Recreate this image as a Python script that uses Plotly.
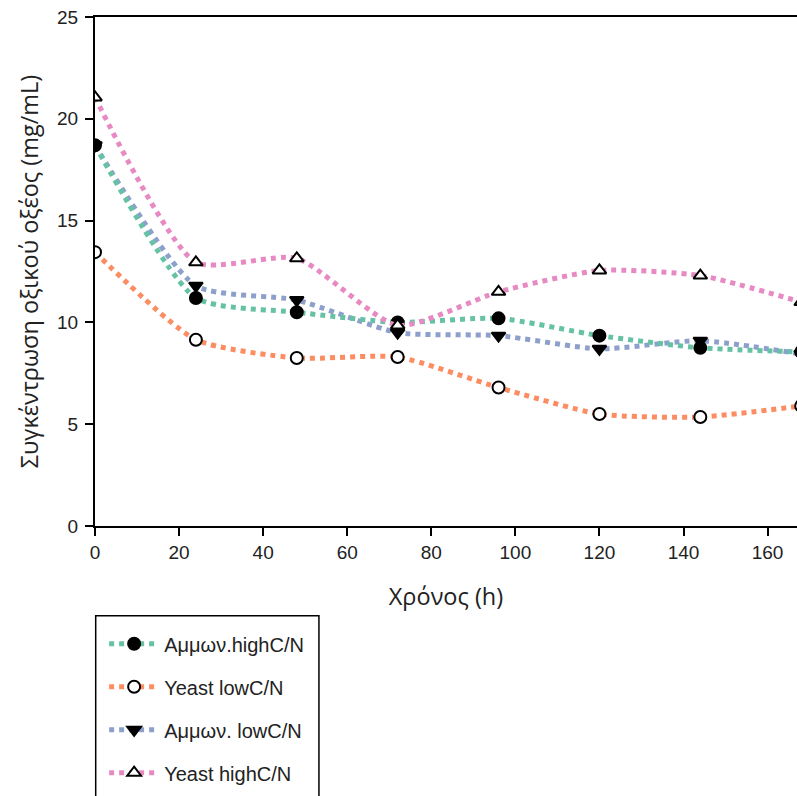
import plotly.graph_objects as go

# Sampling times (h)
time_h = [0, 24, 48, 72, 96, 120, 144, 168]

# Acetic acid concentration (mg/mL) for each culture condition
ammon_high = [18.7, 11.2, 10.5, 10.0, 10.2, 9.35, 8.75, 8.55]
yeast_low = [13.45, 9.15, 8.25, 8.3, 6.8, 5.5, 5.35, 5.9]
ammon_low = [18.7, 11.8, 11.1, 9.5, 9.35, 8.7, 9.1, 8.45]
yeast_high = [21.05, 12.95, 13.15, 9.85, 11.5, 12.55, 12.3, 11.0]

series_names = ["Αμμων.highC/N", "Yeast lowC/N", "Αμμων. lowC/N", "Yeast highC/N"]
line_colors = ["#66c2a5", "#fc8d62", "#8da0cb", "#e78ac3"]

x_ticks = [0, 20, 40, 60, 80, 100, 120, 140, 160]
y_ticks = [0, 5, 10, 15, 20, 25]

AXIS_FONT = dict(family="Liberation Sans, Arial, sans-serif", size=19, color="#222")
TITLE_FONT = "Open Sans, Noto Sans, sans-serif"


def series_trace(y, name, color, symbol, fill, rank):
    return go.Scatter(
        x=time_h,
        y=y,
        name=name,
        legendgroup=name,
        legendrank=rank,
        mode="lines+markers",
        line=dict(color=color, width=5, dash="dot", shape="spline", smoothing=0.6),
        marker=dict(symbol=symbol, size=12, color=fill,
                    line=dict(color="black", width=2)),
    )


fig = go.Figure()
# draw order keeps the filled circles above the filled triangles
fig.add_trace(series_trace(ammon_low, series_names[2], line_colors[2], "triangle-down", "black", 3))
fig.add_trace(series_trace(yeast_low, series_names[1], line_colors[1], "circle", "white", 2))
fig.add_trace(series_trace(ammon_high, series_names[0], line_colors[0], "circle", "black", 1))
fig.add_trace(series_trace(yeast_high, series_names[3], line_colors[3], "triangle-up", "white", 4))

fig.update_layout(
    width=797,
    height=796,
    margin=dict(l=95, r=0, t=17, b=270, autoexpand=False),
    paper_bgcolor="white",
    plot_bgcolor="white",
    showlegend=True,
    legend=dict(
        x=0.013, y=-0.193, xanchor="left", yanchor="top",
        traceorder="grouped", tracegroupgap=14,
        itemwidth=50,
        font=dict(family="Liberation Sans, Arial, sans-serif", size=20, color="#222"),
        bgcolor="rgba(0,0,0,0)", borderwidth=0,
    ),
    shapes=[
        # legend frame, open at the bottom edge of the page
        dict(type="rect", xref="paper", yref="paper",
             x0=0.001, x1=0.319, y0=-0.1762, y1=-0.60,
             line=dict(color="black", width=1.5), fillcolor="rgba(0,0,0,0)", layer="above"),
    ],
)

fig.update_xaxes(
    range=[0, 167],
    tickvals=x_ticks,
    ticks="outside", ticklen=8, tickwidth=2, tickcolor="black",
    showline=True, linewidth=2, linecolor="black", mirror=True,
    showgrid=False, zeroline=False,
    tickfont=AXIS_FONT,
    title=dict(text="Χρόνος (h)", font=dict(family=TITLE_FONT, size=23.5, color="#222"), standoff=27),
)
fig.update_yaxes(
    range=[0, 25],
    tickvals=y_ticks,
    ticks="outside", ticklen=8, tickwidth=2, tickcolor="black",
    showline=True, linewidth=2, linecolor="black",
    showgrid=False, zeroline=False,
    tickfont=AXIS_FONT,
    ticklabelstandoff=3,
    title=dict(text="Συγκέντρωση οξικού οξέος (mg/mL)",
               font=dict(family=TITLE_FONT, size=23.5, color="#222"), standoff=12),
)

fig.write_html("out.html")
